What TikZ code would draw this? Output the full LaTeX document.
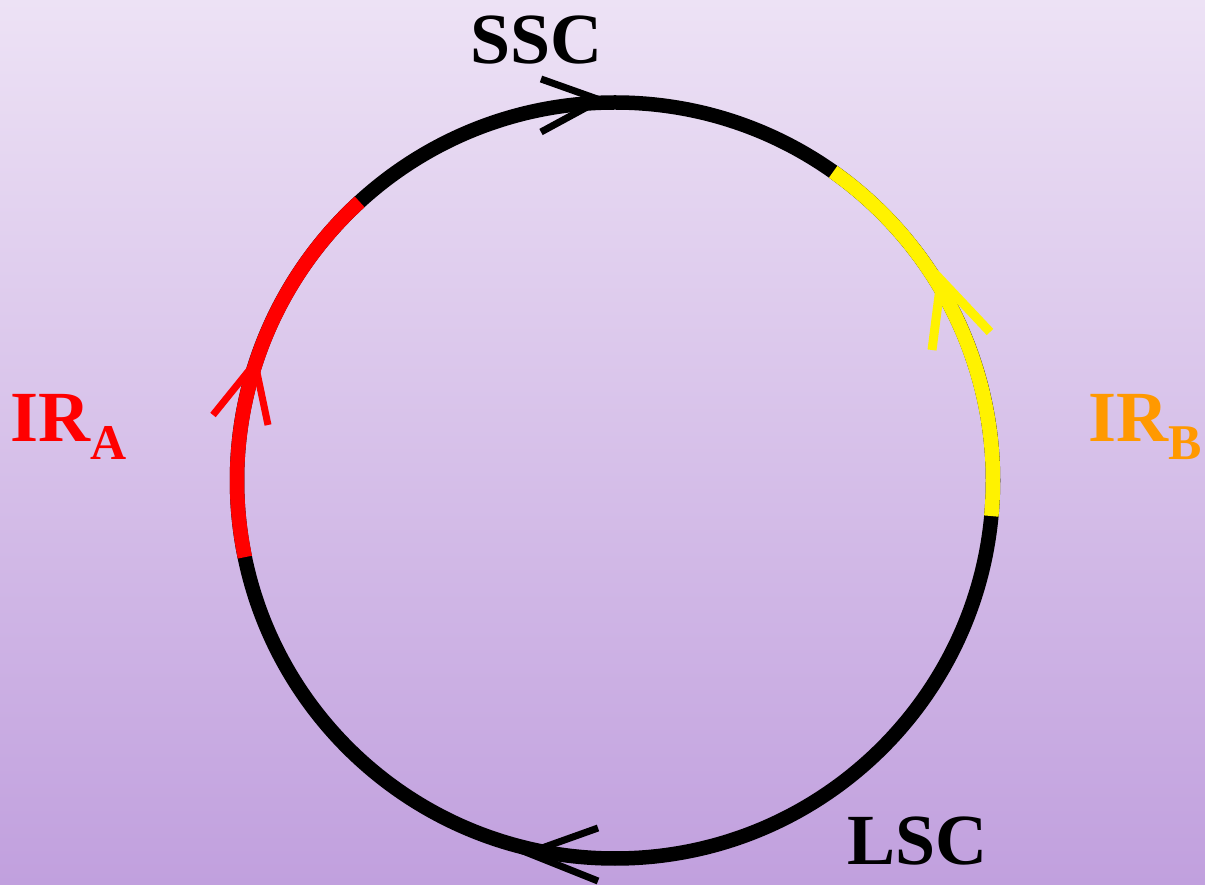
\documentclass[tikz,border=0pt]{standalone}
\usepackage{fontspec}
\setmainfont{Liberation Serif}[BoldFont={Liberation Serif Bold}]
\newfontfamily\lblfont{Liberation Serif Bold}
\usetikzlibrary{calc}
\definecolor{bgtop}{RGB}{237,226,245}
\definecolor{bgmid}{RGB}{221,203,237}
\definecolor{bgbot}{RGB}{193,160,222}
\definecolor{irorange}{RGB}{255,153,0}
\begin{document}
\begin{tikzpicture}[x=1pt,y=1pt,
  lbl/.style={inner sep=0pt,anchor=base west,font=\lblfont\fontsize{72}{80}\selectfont},
  ring/.style={line width=14.5pt},
  chev/.style={line width=7pt}]
\shade[top color=bgtop,middle color=bgmid,bottom color=bgbot] (0,0) rectangle (1205,884);
\useasboundingbox (0,0) rectangle (1205,884);
\coordinate (c) at (615,403.5);
% ring
\draw[ring,black] (c) circle[radius=378pt];
\draw[ring,red] ($(c)+(132.5:378pt)$) arc[start angle=132.5,end angle=191.7,radius=378pt];
\draw[ring,yellow] ($(c)+(-5.4:378pt)$) arc[start angle=-5.4,end angle=54.75,radius=378pt];
% arrowheads
\coordinate (t1) at (541,805); \coordinate (ta) at (600,784); \coordinate (t2) at (541,752);
\draw[chev,black] (t1) -- (ta) -- (t2);
\coordinate (b1) at (598,56); \coordinate (ba) at (528,31); \coordinate (b2) at (598,3);
\draw[chev,black] (b1) -- (ba) -- (b2);
\coordinate (r1) at (213,469); \coordinate (ra) at (255,521); \coordinate (r2) at (268,459);
\draw[chev,red] (r1) -- (ra) -- (r2);
\coordinate (y1) at (932,534); \coordinate (ya) at (941,604); \coordinate (y2) at (990,552);
\draw[line width=9pt,yellow] (y1) -- (ya) -- (y2);
% labels
\node[lbl] (ssc) at (470,820) {SSC};
\node[lbl] (lsc) at (847,20) {LSC};
\node[lbl,text=red] (ira) at (10,442) {IR\raisebox{-18pt}{\fontsize{50}{50}\selectfont A}};
\node[lbl,text=irorange] (irb) at (1088,442) {IR\raisebox{-18pt}{\fontsize{50}{50}\selectfont B}};
\end{tikzpicture}
\end{document}
